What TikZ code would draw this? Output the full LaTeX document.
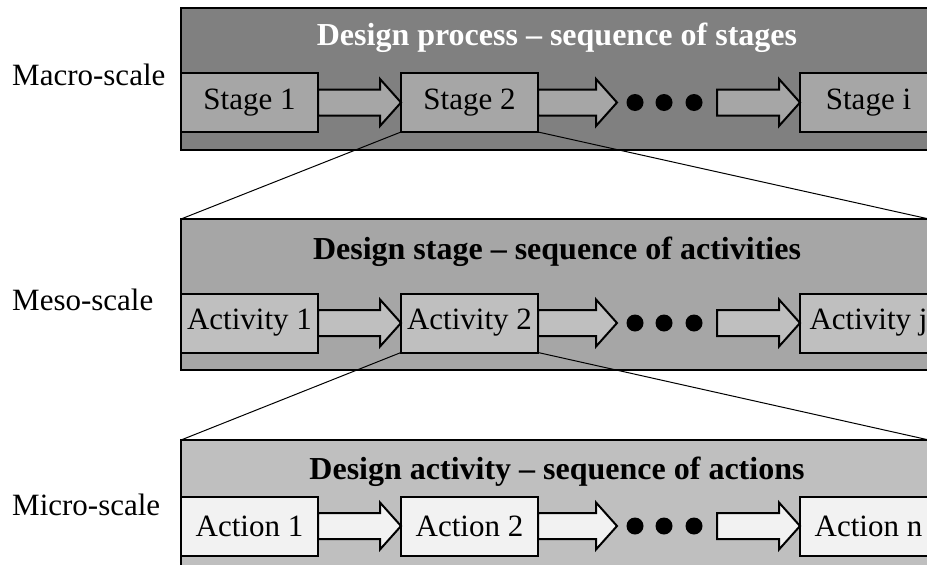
\documentclass[tikz,border=0pt]{standalone}
\usepackage{fontspec}
\setmainfont{Liberation Serif}
\usetikzlibrary{calc}

\definecolor{level1}{HTML}{808080}
\definecolor{level2}{HTML}{A6A6A6}
\definecolor{level3}{HTML}{BFBFBF}
\definecolor{level4}{HTML}{F2F2F2}

\tikzset{
  panel/.style={draw=black, line width=2.5pt, anchor=north west,
                minimum width=760pt, inner sep=0, outer sep=0},
  stagebox/.style={draw=black, line width=2pt, minimum width=137pt,
                   minimum height=59pt, inner sep=0, outer sep=0,
                   font=\fontsize{31}{37}\selectfont},
  paneltitle/.style={font=\fontsize{32}{38}\selectfont\bfseries, inner sep=0},
  scalelabel/.style={font=\fontsize{31}{37}\selectfont, anchor=west, inner sep=0},
  dotsgap/.style={minimum width=100pt, minimum height=20pt, inner sep=0, outer sep=0},
  zoomline/.style={line width=1pt}
}

% block arrow from #1 to #2, filled with #3
\newcommand{\blockarrow}[3]{%
  \draw [line width=2pt, fill=#3]
        ($(#1)+(0,-13)$) --
        ($(#2)+(-21,-13)$) --
        ($(#2)+(-21,-23.5)$) --
        (#2) --
        ($(#2)+(-21,23.5)$) --
        ($(#2)+(-21,13)$) --
        ($(#1)+(0,13)$) -- cycle;
}

\begin{document}
\begin{tikzpicture}[x=1pt, y=-1pt, line join=miter]
	\clip (0,0) rectangle (927,565);
	\fill [white] (0,0) rectangle (927,565);

	% Panels
	\foreach \name/\top/\hgt/\col in {macro/8/142/level1,meso/219/151/level2,micro/440/140/level3}{
		\node (\name)
		      [ panel
		      , fill=\col
		      , minimum height=\hgt pt
		      ]
		      at (181,\top)
		      {};
	}

	% Titles
	\node (macrotitle) [paneltitle, text=white] at (557,38)  {Design process -- sequence of stages};
	\node (mesotitle)  [paneltitle]             at (557,252) {Design stage -- sequence of activities};
	\node (microtitle) [paneltitle]             at (557,472) {Design activity -- sequence of actions};

	% Scale labels
	\node (macrolab) [scalelabel] at (12,75)  {Macro-scale};
	\node (mesolab)  [scalelabel] at (12,300) {Meso-scale};
	\node (microlab) [scalelabel] at (12,505) {Micro-scale};

	% Rows of boxes
	\foreach \row/\y/\bg/\first/\second/\last in {%
			macro/102.5/level2/Stage 1/Stage 2/Stage i,%
			meso/323/level3/Activity 1/Activity 2/Activity j,%
			micro/526/level4/Action 1/Action 2/Action n}{
		\node (\row1)   [stagebox, fill=\bg] at (249.5,\y) {\first};
		\node (\row2)   [stagebox, fill=\bg] at (469.5,\y) {\second};
		\node (\row3)   [stagebox, fill=\bg] at (868.5,\y) {\last};
		\node (\row gap) [dotsgap]           at (667,\y)   {};
		\blockarrow{\row1.east}{\row2.west}{\bg}
		\blockarrow{\row2.east}{\row gap.west}{\bg}
		\blockarrow{\row gap.east}{\row3.west}{\bg}
		\foreach \d in {-32,-3,27}{
			\fill ($(\row gap)+(\d,0)$) circle (8.5);
		}
	}

	% Zoom lines
	\coordinate (mesoedge)  at ($(meso.north west)+(748,0)$);
	\coordinate (microedge) at ($(micro.north west)+(748,0)$);
	\draw [zoomline] (macro2.south west) -- (meso.north west);
	\draw [zoomline] (macro2.south east) -- (mesoedge);
	\draw [zoomline] (meso2.south west)  -- (micro.north west);
	\draw [zoomline] (meso2.south east)  -- (microedge);
\end{tikzpicture}
\end{document}
